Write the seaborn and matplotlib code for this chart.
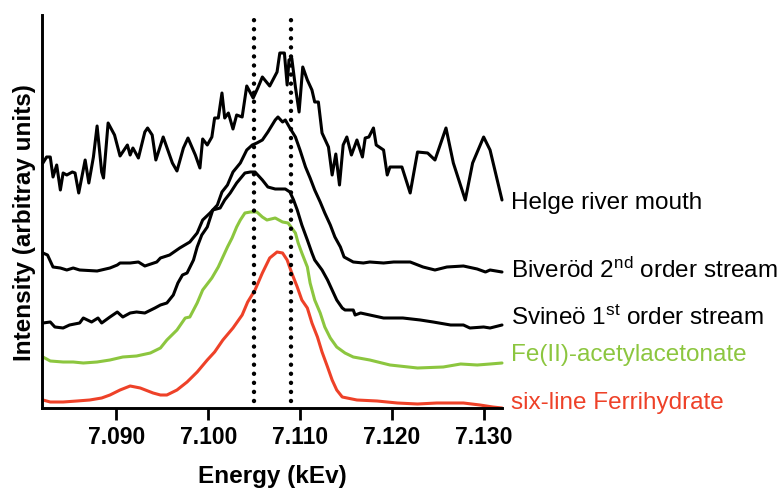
import numpy as np
import pandas as pd
import matplotlib
matplotlib.use("Agg")
import matplotlib.pyplot as plt
import seaborn as sns
from matplotlib.transforms import blended_transform_factory

# ---------------- data ----------------
helge_energy = [7.0820, 7.0824, 7.0828, 7.0831, 7.0835, 7.0839, 7.0842, 7.0846, 7.0852, 7.0855,
                7.0859, 7.0866, 7.0870, 7.0875, 7.0879, 7.0884, 7.0886, 7.0891, 7.0898, 7.0904,
                7.0912, 7.0915, 7.0918, 7.0924, 7.0931, 7.0934, 7.0939, 7.0943, 7.0951, 7.0961,
                7.0966, 7.0973, 7.0978, 7.0986, 7.0991, 7.0994, 7.0999, 7.1004, 7.1007, 7.1011,
                7.1015, 7.1018, 7.1022, 7.1027, 7.1031, 7.1037, 7.1042, 7.1049, 7.1054, 7.1059,
                7.1067, 7.1075, 7.1078, 7.1083, 7.1086, 7.1088, 7.1091, 7.1095, 7.1099, 7.1103,
                7.1108, 7.1113, 7.1116, 7.1120, 7.1124, 7.1131, 7.1135, 7.1139, 7.1143, 7.1147,
                7.1151, 7.1156, 7.1162, 7.1168, 7.1171, 7.1175, 7.1180, 7.1183, 7.1191, 7.1195,
                7.1198, 7.1211, 7.1220, 7.1228, 7.1239, 7.1247, 7.1259, 7.1267, 7.1280, 7.1288,
                7.1300, 7.1307, 7.1320]
helge_intensity = [24.5, 25.1, 25.1, 23.1, 24.3, 21.8, 23.5, 23.3, 23.6, 23.5,
                   21.5, 24.8, 22.5, 25.1, 28.2, 23.6, 23.0, 28.5, 27.3, 25.2,
                   26.3, 25.3, 26.0, 25.0, 27.6, 28.0, 27.3, 24.8, 27.1, 24.5,
                   23.7, 26.0, 27.0, 25.3, 24.0, 26.9, 26.3, 27.1, 29.0, 29.0,
                   31.5, 29.0, 29.5, 27.9, 29.3, 29.1, 32.2, 31.0, 32.0, 33.1,
                   32.2, 33.6, 35.5, 35.5, 32.3, 34.8, 35.0, 32.1, 29.6, 34.1,
                   32.8, 31.8, 30.6, 30.6, 27.5, 26.1, 23.3, 25.4, 22.3, 26.3,
                   27.1, 25.3, 26.8, 25.1, 27.0, 27.1, 28.0, 26.3, 25.8, 23.3,
                   24.1, 24.1, 21.5, 25.6, 25.5, 24.8, 28.0, 24.5, 20.8, 24.5,
                   27.1, 25.8, 20.8]

biverod_energy = [7.0820, 7.0825, 7.0831, 7.0839, 7.0846, 7.0853, 7.0860, 7.0879, 7.0893, 7.0901,
                  7.0904, 7.0915, 7.0924, 7.0931, 7.0944, 7.0948, 7.0958, 7.0969, 7.0980, 7.0988,
                  7.0994, 7.1002, 7.1010, 7.1015, 7.1021, 7.1027, 7.1035, 7.1042, 7.1048, 7.1053,
                  7.1059, 7.1065, 7.1073, 7.1076, 7.1081, 7.1084, 7.1089, 7.1095, 7.1100, 7.1106,
                  7.1111, 7.1116, 7.1122, 7.1127, 7.1133, 7.1138, 7.1144, 7.1148, 7.1158, 7.1169,
                  7.1176, 7.1191, 7.1202, 7.1220, 7.1234, 7.1247, 7.1260, 7.1278, 7.1293, 7.1302,
                  7.1307, 7.1320]
biverod_intensity = [15.5, 15.3, 14.1, 14.0, 13.8, 14.0, 13.8, 13.7, 14.0, 14.3,
                     14.5, 14.5, 14.6, 14.2, 14.6, 15.0, 15.3, 16.0, 16.6, 17.5,
                     18.8, 19.5, 20.3, 21.6, 22.3, 23.6, 24.5, 25.8, 26.3, 26.5,
                     26.8, 27.6, 28.8, 29.1, 28.6, 28.8, 28.0, 27.1, 25.8, 24.1,
                     23.0, 21.8, 20.6, 19.5, 18.3, 17.1, 16.1, 15.1, 14.6, 14.5,
                     14.6, 14.5, 14.6, 14.6, 14.1, 13.8, 14.1, 14.2, 13.9, 13.6,
                     13.8, 13.6]

svineo_energy = [7.0820, 7.0828, 7.0833, 7.0842, 7.0849, 7.0860, 7.0864, 7.0873, 7.0880, 7.0884,
                 7.0893, 7.0901, 7.0907, 7.0915, 7.0922, 7.0931, 7.0942, 7.0948, 7.0955, 7.0962,
                 7.0967, 7.0972, 7.0977, 7.0984, 7.0988, 7.0993, 7.0999, 7.1005, 7.1013, 7.1018,
                 7.1024, 7.1031, 7.1040, 7.1046, 7.1051, 7.1059, 7.1065, 7.1073, 7.1084, 7.1089,
                 7.1093, 7.1097, 7.1102, 7.1108, 7.1113, 7.1116, 7.1124, 7.1130, 7.1135, 7.1140,
                 7.1146, 7.1149, 7.1158, 7.1160, 7.1166, 7.1176, 7.1191, 7.1212, 7.1231, 7.1245,
                 7.1264, 7.1278, 7.1285, 7.1300, 7.1307, 7.1320]
svineo_intensity = [8.5, 8.6, 8.1, 8.0, 8.3, 8.5, 9.0, 8.6, 9.0, 8.5,
                    9.1, 9.6, 9.1, 9.5, 9.6, 9.5, 10.0, 10.3, 10.5, 11.3,
                    12.5, 13.3, 13.5, 14.8, 16.1, 17.3, 18.1, 19.8, 20.0, 20.8,
                    21.5, 22.5, 23.5, 23.6, 23.6, 22.8, 22.1, 21.9, 21.9, 21.6,
                    20.8, 19.8, 18.3, 16.8, 15.5, 14.8, 13.8, 12.8, 11.8, 10.8,
                    10.0, 9.8, 9.8, 9.3, 9.5, 9.3, 9.0, 9.0, 8.8, 8.6,
                    8.3, 8.3, 8.0, 8.1, 8.0, 8.3]

feacac_energy = [7.0820, 7.0828, 7.0842, 7.0853, 7.0864, 7.0879, 7.0893, 7.0907, 7.0922, 7.0937,
                 7.0948, 7.0955, 7.0966, 7.0975, 7.0980, 7.0988, 7.0994, 7.1004, 7.1011, 7.1016,
                 7.1021, 7.1026, 7.1031, 7.1035, 7.1040, 7.1046, 7.1053, 7.1059, 7.1064, 7.1073,
                 7.1081, 7.1087, 7.1091, 7.1095, 7.1098, 7.1102, 7.1108, 7.1111, 7.1116, 7.1122,
                 7.1127, 7.1133, 7.1140, 7.1149, 7.1158, 7.1176, 7.1198, 7.1228, 7.1256, 7.1275,
                 7.1293, 7.1307, 7.1320]
feacac_intensity = [5.1, 4.7, 4.6, 4.6, 4.5, 4.6, 4.8, 5.1, 5.2, 5.5,
                    6.0, 6.8, 7.8, 9.0, 9.1, 10.5, 11.8, 13.0, 14.1, 15.1,
                    16.1, 17.0, 18.1, 18.8, 19.5, 19.6, 19.6, 19.1, 18.8, 19.0,
                    18.6, 18.5, 18.0, 17.5, 16.5, 15.5, 14.1, 12.5, 10.8, 9.5,
                    8.1, 7.0, 6.1, 5.5, 5.1, 4.8, 4.3, 4.0, 4.1, 4.4,
                    4.3, 4.4, 4.5]

ferri_energy = [7.0820, 7.0828, 7.0842, 7.0857, 7.0871, 7.0884, 7.0893, 7.0904, 7.0915, 7.0926,
                7.0940, 7.0948, 7.0955, 7.0966, 7.0977, 7.0988, 7.0999, 7.1007, 7.1016, 7.1027,
                7.1037, 7.1043, 7.1051, 7.1059, 7.1067, 7.1075, 7.1081, 7.1086, 7.1091, 7.1097,
                7.1102, 7.1108, 7.1113, 7.1119, 7.1124, 7.1130, 7.1135, 7.1140, 7.1146, 7.1162,
                7.1184, 7.1206, 7.1228, 7.1249, 7.1278, 7.1296, 7.1310, 7.1320]
ferri_intensity = [0.8, 0.6, 0.6, 0.7, 0.8, 1.0, 1.3, 1.8, 2.2, 2.0,
                   1.5, 1.3, 1.3, 1.8, 2.6, 3.6, 4.8, 5.6, 6.8, 8.0,
                   9.3, 10.6, 11.8, 13.5, 15.0, 15.6, 15.5, 14.8, 13.5, 12.1,
                   10.8, 10.0, 8.5, 7.1, 5.6, 4.1, 2.8, 1.8, 1.1, 0.8,
                   0.7, 0.5, 0.4, 0.5, 0.5, 0.3, 0.1, 0.0]

series_names = ["Helge river mouth",
                "Biveröd 2$^{\\mathrm{nd}}$ order stream",
                "Svineö 1$^{\\mathrm{st}}$ order stream",
                "Fe(II)-acetylacetonate",
                "six-line Ferrihydrate"]
series_colors = ["#000000", "#000000", "#000000", "#8CC63F", "#EE4128"]
reference_energies = [7.105, 7.109]
tick_values = [7.090, 7.100, 7.110, 7.120, 7.130]
tick_labels = ["7.090", "7.100", "7.110", "7.120", "7.130"]

# ---------------- build table ----------------
all_e = [helge_energy, biverod_energy, svineo_energy, feacac_energy, ferri_energy]
all_i = [helge_intensity, biverod_intensity, svineo_intensity, feacac_intensity, ferri_intensity]
frames = [pd.DataFrame({"energy": e, "intensity": i, "series": n})
          for n, e, i in zip(series_names, all_e, all_i)]
df = pd.concat(frames, ignore_index=True)

# ---------------- styling ----------------
sns.set_theme(style="white")
plt.rcParams["font.family"] = ["Liberation Sans", "DejaVu Sans"]
plt.rcParams["mathtext.fontset"] = "custom"
plt.rcParams["mathtext.rm"] = "Liberation Sans"
plt.rcParams["mathtext.it"] = "Liberation Sans:italic"
plt.rcParams["mathtext.bf"] = "Liberation Sans:bold"
plt.rcParams["text.color"] = "black"
plt.rcParams["axes.labelcolor"] = "black"

W, H = 781, 488
fig = plt.figure(figsize=(W / 100, H / 100), dpi=100)
ax = fig.add_axes([42 / W, 80 / H, 460 / W, 393 / H])

sns.lineplot(data=df, x="energy", y="intensity", hue="series",
             hue_order=series_names, palette=dict(zip(series_names, series_colors)),
             estimator=None, sort=False, linewidth=2.2, legend=False, ax=ax)
for line in ax.get_lines():
    line.set_clip_on(False)
    line.set_solid_joinstyle("round")

ax.vlines(reference_energies, 0.7, 39.4, colors="black", linewidth=3.2,
          linestyles=[(0, (0.01, 2.03))], capstyle="round", zorder=5, clip_on=False)

ax.set_xlim(7.0819, 7.1320)
ax.set_ylim(0, 39.3)

ax.set_xticks(tick_values)
ax.set_xticklabels(tick_labels, fontsize=16.5, fontweight="bold", color="black")
ax.set_yticks([])
ax.tick_params(axis="x", direction="out", length=8.6, width=2.0, pad=4.5,
               colors="black", labelcolor="black", bottom=True)

for side in ["top", "right"]:
    ax.spines[side].set_visible(False)
for side in ["left", "bottom"]:
    ax.spines[side].set_linewidth(2.1)
    ax.spines[side].set_color("black")

ax.set_xlabel("Energy (kEv)", fontsize=17.5, fontweight="bold", labelpad=11.5, color="black")
ax.set_ylabel("Intensity (arbitray units)", fontsize=17.5, fontweight="bold", color="black")
ax.yaxis.set_label_coords(-0.013, 0.471)

label_baselines = [19.9, 13.0, 8.3, 4.7, -0.1]
trans = blended_transform_factory(ax.transAxes, ax.transData)
for name, col, yb in zip(series_names, series_colors, label_baselines):
    ax.text(1.0 + 9 / 460, yb, name, transform=trans, fontsize=17.5, color=col,
            va="baseline", ha="left", clip_on=False)

fig.savefig("out.png", dpi=100)
